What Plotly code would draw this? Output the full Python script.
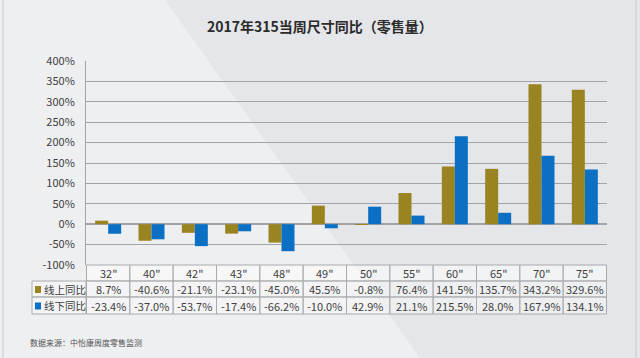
import plotly.graph_objects as go

categories = ['32"', '40"', '42"', '43"', '48"', '49"', '50"', '55"', '60"', '65"', '70"', '75"']
online = [8.7, -40.6, -21.1, -23.1, -45.0, 45.5, -0.8, 76.4, 141.5, 135.7, 343.2, 329.6]
offline = [-23.4, -37.0, -53.7, -17.4, -66.2, -10.0, 42.9, 21.1, 215.5, 28.0, 167.9, 134.1]
series_names = ["线上同比", "线下同比"]
colors = ["#9a8422", "#0b70c3"]
title = "2017年315当周尺寸同比（零售量）"
source = "数据来源：中怡康周度零售监测"
yticks = [-100, -50, 0, 50, 100, 150, 200, 250, 300, 350, 400]

W, H = 640, 358
L, R, T, B = 86, 33, 61, 93
ph = H - T - B
pw = W - L - R

def py(p):
    return (H - B - p) / ph  # pixel y -> paper y

def px(p):
    return (p - L) / pw

FONT = "Noto Sans CJK SC, Noto Sans, sans-serif"

fig = go.Figure()
for name, vals, c in zip(series_names, [online, offline], colors):
    fig.add_trace(go.Bar(x=categories, y=vals, name=name, marker_color=c,
                         marker_line_width=0, showlegend=False, hoverinfo="skip"))

shapes = []
ann = []
shapes.append(dict(type="path", xref="paper", yref="paper", layer="below",
                   path=f"M {px(0)} {py(0)} L {px(165)} {py(0)} L {px(420)} {py(H)} L {px(0)} {py(H)} Z",
                   fillcolor="rgba(255,255,255,0.35)", line_width=0))
shapes.append(dict(type="rect", xref="paper", yref="paper", layer="below",
                   x0=px(3), x1=px(636), y0=py(H + 5), y1=py(-5),
                   line=dict(color="#c9cacd", width=1), fillcolor="rgba(0,0,0,0)"))

rows_y = [265, 281, 297, 314]
border = "#a9aaad"
n = len(categories)
tf = dict(size=11, color="#404040", family=FONT)
for i in range(n):
    for r in range(3):
        shapes.append(dict(type="rect", xref="x", yref="paper", x0=i - 0.5, x1=i + 0.5,
                           y0=py(rows_y[r + 1]), y1=py(rows_y[r]),
                           line=dict(color=border, width=1),
                           fillcolor="rgba(255,255,255,0.5)" if r == 0 else "rgba(255,255,255,0.35)"))
    ann.append(dict(x=categories[i], y=py((rows_y[0] + rows_y[1]) / 2), xref="x", yref="paper",
                    yanchor="middle", text=categories[i], showarrow=False, font=tf))
    ann.append(dict(x=categories[i], y=py((rows_y[1] + rows_y[2]) / 2), xref="x", yref="paper",
                    yanchor="middle", text=f"{online[i]:.1f}%", showarrow=False, font=tf))
    ann.append(dict(x=categories[i], y=py((rows_y[2] + rows_y[3]) / 2), xref="x", yref="paper",
                    yanchor="middle", text=f"{offline[i]:.1f}%", showarrow=False, font=tf))

for r in range(2):
    shapes.append(dict(type="rect", xref="paper", yref="paper", x0=px(32), x1=0,
                       y0=py(rows_y[r + 2]), y1=py(rows_y[r + 1]),
                       line=dict(color=border, width=1), fillcolor="rgba(255,255,255,0.35)"))
    yc = (rows_y[r + 1] + rows_y[r + 2]) / 2
    shapes.append(dict(type="rect", xref="paper", yref="paper",
                       x0=px(35), x1=px(41), y0=py(yc + 4), y1=py(yc - 3),
                       line_width=0, fillcolor=colors[r]))
    ann.append(dict(x=px(41.5), y=py(yc), xref="paper", yref="paper", xanchor="left", yanchor="middle",
                    text=series_names[r], showarrow=False,
                    font=dict(size=10.5, color="#404040", family=FONT)))

ann.append(dict(x=px(320), xref="paper", y=py(26), yref="paper", yanchor="middle", text=f"<b>{title}</b>",
                showarrow=False, font=dict(size=14, color="#2b2b2b", family=FONT)))
ann.append(dict(x=px(28), xref="paper", y=py(342), yref="paper", xanchor="left", yanchor="middle",
                text=source, showarrow=False, font=dict(size=8, color="#555555", family=FONT)))

fig.update_layout(
    width=W, height=H, margin=dict(l=L, r=R, t=T, b=B, autoexpand=False),
    paper_bgcolor="#e5e6ea", plot_bgcolor="rgba(0,0,0,0)",
    barmode="group", bargap=0.4, bargroupgap=0,
    shapes=shapes, annotations=ann,
    font=dict(family=FONT, color="#404040"),
)
fig.update_xaxes(showticklabels=False, showgrid=False, zeroline=False, showline=False, automargin=False)
fig.update_yaxes(range=[-100, 400], tickvals=yticks, ticktext=[f"{v}%" for v in yticks],
                 showgrid=True, gridcolor="#a3a4a7", gridwidth=1, zeroline=True, zerolinecolor="#a3a4a7",
                 showline=True, linecolor="#a3a4a7", tickfont=dict(size=11, color="#404040"),
                 ticks="", ticklabelstandoff=8, automargin=False)
fig.write_html("out.html", config={"displayModeBar": False},
               post_script="document.body.style.margin='0';document.body.style.overflow='hidden';")
